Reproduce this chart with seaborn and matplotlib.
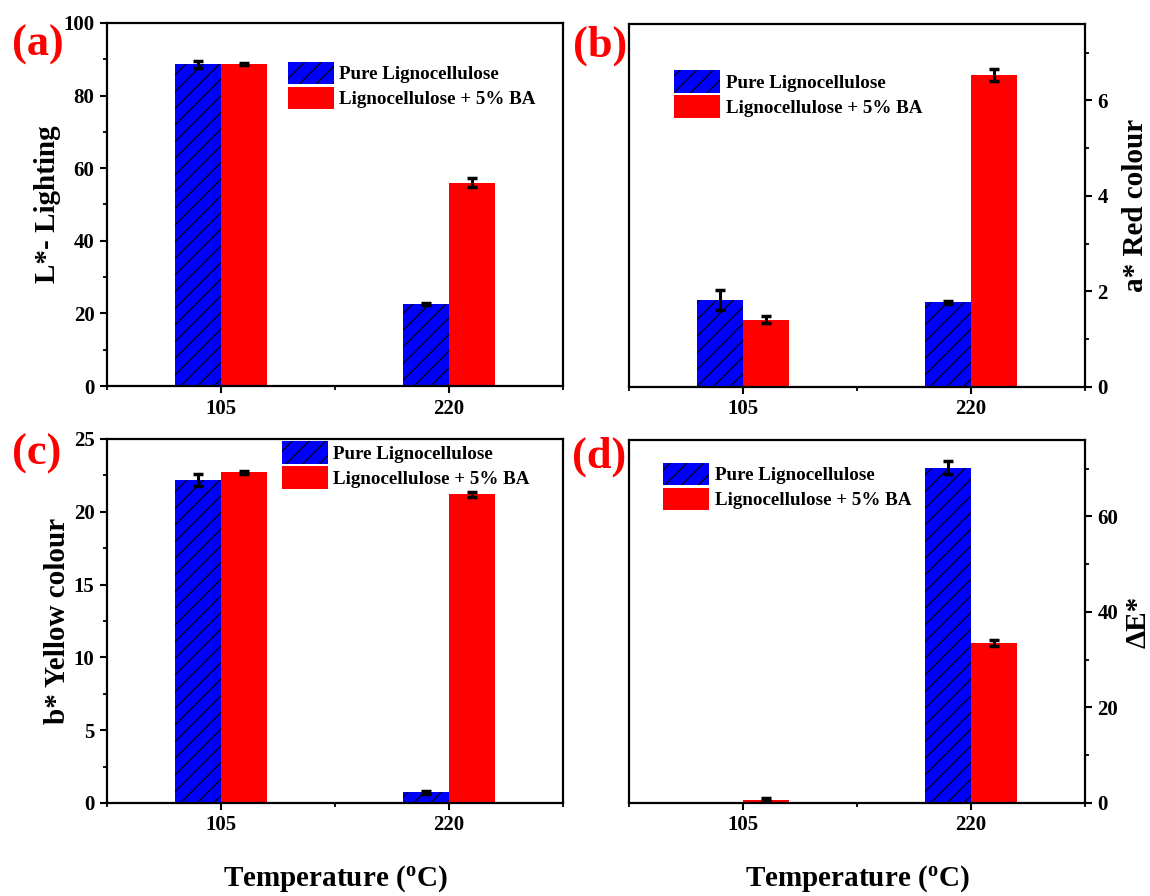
import matplotlib
matplotlib.use("Agg")
import matplotlib.pyplot as plt
import seaborn as sns
import pandas as pd
from matplotlib.ticker import FixedLocator, MultipleLocator

# ---------------- data ----------------
temps = ["105", "220"]
samples = ["Pure Lignocellulose", "Lignocellulose + 5% BA"]

L_pure = [88.6, 22.7]
L_pure_err = [1.0, 0.3]
L_ba = [88.7, 56.0]
L_ba_err = [0.4, 1.2]

a_pure = [1.83, 1.77]
a_pure_err = [0.21, 0.04]
a_ba = [1.41, 6.53]
a_ba_err = [0.07, 0.12]

b_pure = [22.2, 0.73]
b_pure_err = [0.4, 0.1]
b_ba = [22.7, 21.2]
b_ba_err = [0.12, 0.15]

E_pure = [0.0, 70.2]
E_pure_err = [0.0, 1.3]
E_ba = [0.7, 33.5]
E_ba_err = [0.3, 0.7]

panel_labels = ["(a)", "(b)", "(c)", "(d)"]
ylabels = ["L*- Lighting", "a* Red colour", "b* Yellow colour", "ΔE*"]
xlabel = "Temperature ($\\mathregular{^{o}}$C)"

# ---------------- style ----------------
sns.set_theme(style="ticks")
plt.rcParams["font.family"] = ["Liberation Serif", "DejaVu Serif"]
plt.rcParams["font.weight"] = "bold"
plt.rcParams["axes.labelweight"] = "bold"
plt.rcParams["mathtext.fontset"] = "custom"
plt.rcParams["mathtext.rm"] = "Liberation Serif:bold"
plt.rcParams["hatch.linewidth"] = 0.8
for k in ["text.color", "axes.labelcolor", "xtick.color", "ytick.color",
          "xtick.labelcolor", "ytick.labelcolor", "axes.edgecolor"]:
    plt.rcParams[k] = "black"

colors = {samples[0]: "#0000ff", samples[1]: "#ff0000"}

fig = plt.figure(figsize=(11.5, 8.96), dpi=100)

W, H = 1150, 896
def pos(l, t, r, b):
    return [l / W, 1 - b / H, (r - l) / W, (b - t) / H]

axes_pos = [pos(107, 23, 563, 386), pos(629, 24, 1085, 387),
            pos(107, 439, 563, 803), pos(629, 440, 1085, 803)]

panels = [
    (L_pure, L_pure_err, L_ba, L_ba_err, (0, 100), 20, 10),
    (a_pure, a_pure_err, a_ba, a_ba_err, (0, 7.6), 2, 1),
    (b_pure, b_pure_err, b_ba, b_ba_err, (0, 25), 5, 2.5),
    (E_pure, E_pure_err, E_ba, E_ba_err, (0, 76), 20, 10),
]
legend_anchor = [(0.397, 0.893), (0.099, 0.873), (0.384, 0.994), (0.075, 0.937)]
label_pos = [(12, 56), (573, 57), (12, 465), (572, 468)]
right_label_x = {1: 1.081, 3: 1.086}

for i, (pv, pe, bv, be, ylim, major, minor) in enumerate(panels):
    ax = fig.add_axes(axes_pos[i])
    df = pd.DataFrame({
        "Temperature": temps + temps,
        "Sample": [samples[0]] * 2 + [samples[1]] * 2,
        "value": list(pv) + list(bv),
    })
    sns.barplot(data=df, x="Temperature", y="value", hue="Sample",
                order=temps, hue_order=samples, palette=colors,
                saturation=1, width=0.4, gap=0, errorbar=None,
                legend=False, ax=ax, linewidth=0)
    errs = {samples[0]: pe, samples[1]: be}
    for cont, s in zip(ax.containers, samples):
        for p in cont.patches:
            if s == samples[0]:
                p.set_hatch("//")
                p.set_edgecolor("black")
                p.set_linewidth(0)
            else:
                p.set_edgecolor("none")
            cx = p.get_x() + p.get_width() / 2
            idx = int(round(cx))
            e = errs[s][idx]
            h = p.get_height()
            if h > 0 and e > 0:
                ax.errorbar(cx, h, yerr=e, fmt="none", ecolor="black",
                            elinewidth=2.2, capsize=3.5, capthick=2.5, zorder=5)
    ax.legend(ax.containers, samples, loc="upper left",
              bbox_to_anchor=legend_anchor[i], frameon=False,
              prop={"family": "Liberation Serif", "weight": "bold", "size": 13.7},
              handlelength=2.4, handleheight=1.45, handletextpad=0.3,
              labelspacing=0.12, borderpad=0, borderaxespad=0)

    ax.set_xlim(-0.5, 1.5)
    ax.set_ylim(*ylim)
    ax.yaxis.set_major_locator(MultipleLocator(major))
    ax.yaxis.set_minor_locator(MultipleLocator(minor))
    ax.xaxis.set_minor_locator(FixedLocator([-0.5, 0.5, 1.5]))
    for sp in ax.spines.values():
        sp.set_visible(True)
        sp.set_linewidth(1.6)
        sp.set_color("black")
    ax.tick_params(axis="both", which="major", direction="out", length=5,
                   width=1.5, labelsize=15, color="black", pad=4)
    ax.tick_params(axis="both", which="minor", direction="out", length=3,
                   width=1.3, color="black")
    for lab in ax.get_xticklabels() + ax.get_yticklabels():
        lab.set_fontweight("bold")
    if i in (1, 3):
        ax.yaxis.tick_right()
        ax.yaxis.set_label_position("right")
        ax.tick_params(axis="y", which="both", left=False, right=True)
        ax.set_ylabel(ylabels[i], fontsize=21, fontweight="bold")
        ax.yaxis.set_label_coords(right_label_x[i], 0.5)
    else:
        ax.set_ylabel(ylabels[i], fontsize=21, fontweight="bold", labelpad=2)
    if i in (2, 3):
        ax.set_xlabel(xlabel, fontsize=21, fontweight="bold", labelpad=20)
    else:
        ax.set_xlabel("")
    fig.text(label_pos[i][0] / W, 1 - label_pos[i][1] / H, panel_labels[i],
             color="#ff0000", fontsize=32, fontweight="bold",
             ha="left", va="baseline")

fig.savefig("out.png", dpi=100)
